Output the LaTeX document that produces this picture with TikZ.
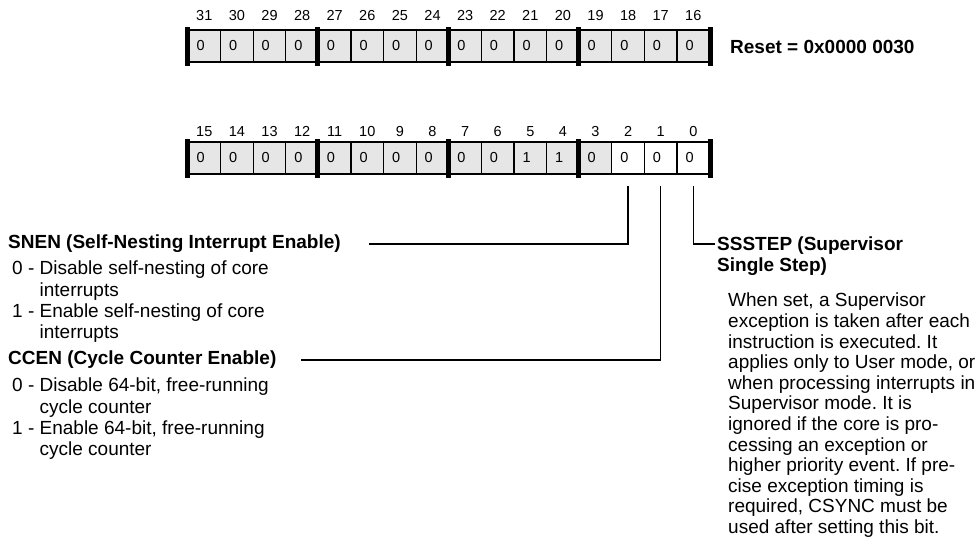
\documentclass[tikz,border=0pt]{standalone}
\usepackage{fontspec}
\setmainfont{Liberation Sans}
\usetikzlibrary{positioning,calc}
\definecolor{regshade}{HTML}{E6E6E6}
\newcommand{\regtext}{\fontsize{19}{21.3}\selectfont}
\newcommand{\regsmall}{\fontsize{14.5}{16}\selectfont}
\frenchspacing

\begin{document}
\begin{tikzpicture}[
          x=1pt, y=-1pt,
          cell/.style={draw, line width=1.3pt, fill=regshade, minimum width=32.6pt,
                       minimum height=32pt, inner xsep=8.5pt, text width=15.6pt,
                       align=left, font=\regsmall},
          clear/.style={cell, fill=white},
          bitnum/.style={inner sep=0pt, font=\regsmall},
          bar/.style={line width=4.8pt},
          title/.style={inner sep=0pt, anchor=west, font=\regtext\bfseries},
          desc/.style={inner sep=0pt, anchor=north west, align=left, font=\regtext},
          lead/.style={line width=1.5pt}
        ]
        \useasboundingbox (0,0) rectangle (977,546);
        \foreach \b [count=\k from 0] in {31,30,...,16} {
          \node[cell] (t\b) at ({204.3+32.6*\k},46) {0};
          \node[bitnum, above=9pt of t\b] {\b};
        }
        \foreach \b/\v/\s [count=\k from 0] in {15/0/cell,14/0/cell,13/0/cell,12/0/cell,
              11/0/cell,10/0/cell,9/0/cell,8/0/cell,7/0/cell,6/0/cell,5/1/cell,4/1/cell,
              3/0/cell,2/0/clear,1/0/clear,0/0/clear} {
          \node[\s] (b\b) at ({204.3+32.6*\k},158) {\v};
          \node[bitnum, above=5pt of b\b] {\b};
        }
        \foreach \b in {31,27,23,19}
          \draw[bar] ([yshift=2pt]t\b.north west) -- ([yshift=-3pt]t\b.south west);
        \foreach \b in {15,11,7,3}
          \draw[bar] ([yshift=2pt]b\b.north west) -- ([yshift=-3pt]b\b.south west);
        \draw[bar] ([yshift=2pt]t16.north east) -- ([yshift=-3pt]t16.south east);
        \draw[bar] ([yshift=2pt]b0.north east) -- ([yshift=-3pt]b0.south east);
        \node[title] (reset) at (730,47) {Reset = 0x0000 0030};
        \node[title] (snen) at (8,244) {SNEN (Self-Nesting Interrupt Enable)};
        \node[desc] (snenvals) at (12,260.9) {0 - Disable self-nesting of core\\
          \phantom{0 - }interrupts\\1 - Enable self-nesting of core\\\phantom{1 - }interrupts};
        \node[title] (ccen) at (8,360) {CCEN (Cycle Counter Enable)};
        \node[desc] (ccenvals) at (12,377.9) {0 - Disable 64-bit, free-running\\
          \phantom{0 - }cycle counter\\1 - Enable 64-bit, free-running\\\phantom{1 - }cycle counter};
        \node[desc, font=\fontsize{19}{20.5}\selectfont\bfseries] (ssstep) at (717,237) {SSSTEP (Supervisor\\Single Step)};
        \node[desc, font=\fontsize{19}{20.6}\selectfont] (ssdesc) at (728,292.9) {When set, a Supervisor\\
          exception is taken after each\\instruction is executed. It\\
          applies only to User mode, or\\when processing interrupts in\\
          Supervisor mode. It is\\ignored if the core is pro-\\cessing an exception or\\
          higher priority event. If pre-\\cise exception timing is\\
          required, CSYNC must be\\used after setting this bit.};
        \draw[lead] ([yshift=-11pt]b2.south) |- ([xshift=28pt]snen.east);
        \draw[lead] ([yshift=-11pt]b1.south) |- ([xshift=24pt]ccen.east);
        \draw[lead] ([yshift=-11pt]b0.south) |- ($(ssstep.north west)+(-2pt,-7pt)$);
      \end{tikzpicture}
\end{document}
